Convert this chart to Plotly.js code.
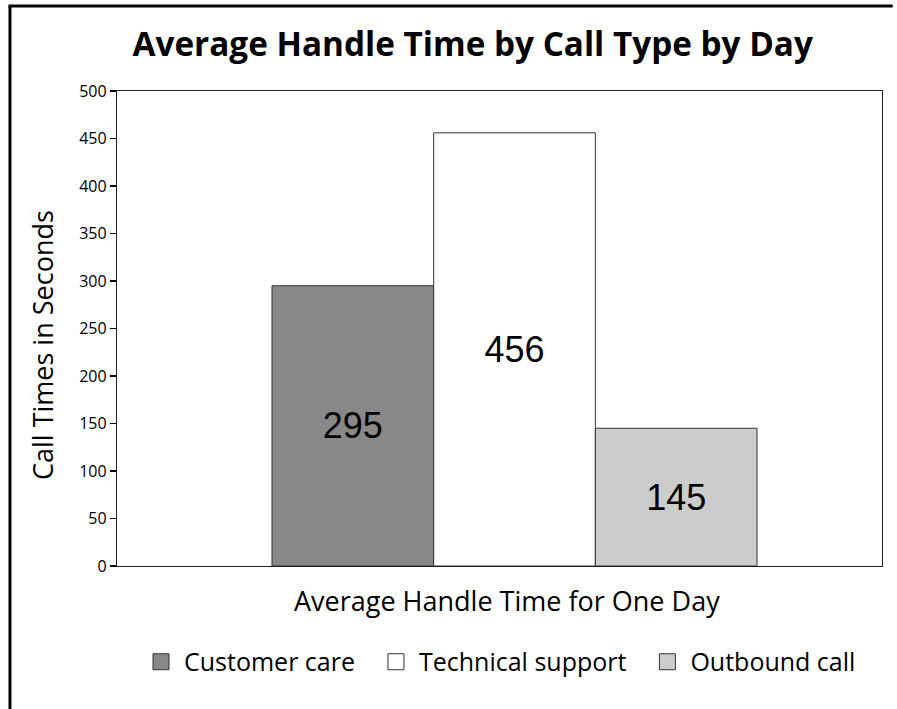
<!DOCTYPE html>
<html><head><meta charset="utf-8">
<script src="https://cdn.plot.ly/plotly-3.0.1.min.js"></script>
<style>body{margin:0;background:#fff}#chart{width:897px;height:709px}</style>
</head><body><div id="chart"></div>
<script>
const seriesNames = ['Customer care', 'Technical support', 'Outbound call'];
const seriesValues = [295, 456, 145];
const seriesColors = ['#888888', '#ffffff', '#cccccc'];
const yTicks = [0, 50, 100, 150, 200, 250, 300, 350, 400, 450, 500];

const barTraces = seriesNames.map((n, i) => ({
  type: 'bar', name: n, x: [0], y: [seriesValues[i]], showlegend: false,
  text: [String(seriesValues[i])], textposition: 'inside', insidetextanchor: 'middle',
  textfont: {family: 'Liberation Sans, Arial', size: 36, color: '#000'},
  marker: {color: seriesColors[i], line: {color: '#333', width: 1}},
  hoverinfo: 'skip'
}));
const legendTraces = seriesNames.map((n, i) => ({
  type: 'scatter', mode: 'markers', name: n + (i < seriesNames.length - 1 ? '\u00a0\u00a0' : ''), x: [null], y: [null],
  marker: {symbol: 'square', size: 17, color: seriesColors[i], line: {color: '#333', width: 1}}
}));

const layout = {
  width: 897, height: 709,
  margin: {l: 117, r: 15, t: 91, b: 143, autoexpand: false},
  paper_bgcolor: '#fff', plot_bgcolor: '#fff',
  barmode: 'group', bargap: 0, bargroupgap: 0,
  font: {family: 'Open Sans, sans-serif', color: '#000'},
  title: {text: '<b>Average Handle Time by Call Type by Day</b>', font: {family: 'Open Sans', size: 33.3, color: '#000'},
          x: 0.527, xanchor: 'center', y: 0.937, yanchor: 'middle'},
  xaxis: {range: [-0.8196, 0.7577], showticklabels: false, ticks: '', showgrid: false, zeroline: false,
          showline: true, linecolor: '#222', linewidth: 1.2, mirror: true},
  yaxis: {range: [0, 500], tickvals: yTicks, ticktext: yTicks.map(String), ticks: 'outside', ticklen: 6, tickcolor: '#000', tickwidth: 1.2,
          showgrid: false, zeroline: false, showline: true, linecolor: '#222', linewidth: 1.2, mirror: true,
          tickfont: {size: 16, color: '#000'}},
  annotations: [
    {text: 'Average Handle Time for One Day', xref: 'paper', yref: 'paper', x: 0.51, y: -0.0716,
     xanchor: 'center', yanchor: 'middle', showarrow: false, font: {size: 27, color: '#000'}},
    {text: 'Call Times in Seconds', xref: 'paper', yref: 'paper', x: -0.0967, y: 0.4653, textangle: -90,
     xanchor: 'center', yanchor: 'middle', showarrow: false, font: {size: 27, color: '#000'}}
  ],
  legend: {orientation: 'h', x: 0.5, xanchor: 'center', yref: 'container', y: 0.0663, yanchor: 'middle',
           font: {size: 25, color: '#000'}, itemwidth: 36, traceorder: 'normal'},
  shapes: [
    {type: 'line', xref: 'paper', yref: 'paper', x0: -0.1399, x1: -0.1399, y0: -0.35, y1: 1.179, line: {color: '#000', width: 3}},
    {type: 'line', xref: 'paper', yref: 'paper', x0: -0.1418, x1: 1.014, y0: 1.179, y1: 1.179, line: {color: '#000', width: 3}}
  ],
  showlegend: true
};
Plotly.newPlot('chart', barTraces.concat(legendTraces), layout, {displayModeBar: false, staticPlot: true});
</script></body></html>
